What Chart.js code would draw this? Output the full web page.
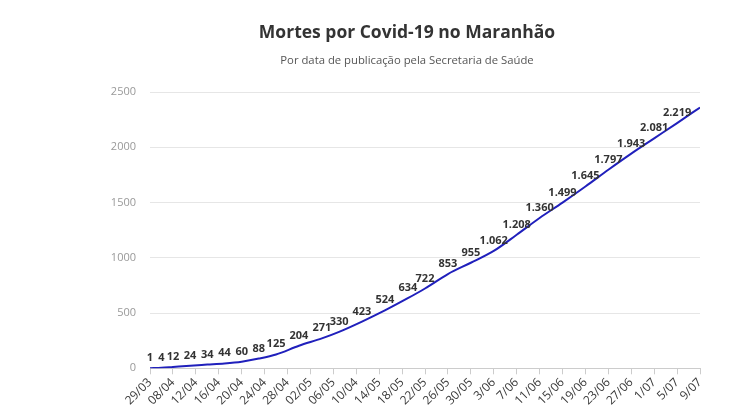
<!DOCTYPE html>
<html>
<head>
<meta charset="utf-8">
<script src="https://cdn.jsdelivr.net/npm/chart.js@4"></script>
<style>
  html, body { margin: 0; padding: 0; background: #fff; }
  #wrap { width: 750px; height: 409px; }
</style>
</head>
<body>
<div id="wrap"><canvas id="myChart"></canvas></div>
<script>
// day index from 29/03 (0) to 9/07 (96), with 05/04 as index 1
const dayIndex = [0, 2, 4, 7, 10, 13, 16, 19, 22, 26, 30, 33, 37, 41, 45, 48, 52, 56, 60, 64, 68, 72, 76, 80, 84, 88, 92, 96];
const deaths = [1, 4, 12, 24, 34, 44, 60, 88, 125, 204, 271, 330, 423, 524, 634, 722, 853, 955, 1062, 1208, 1360, 1499, 1645, 1797, 1943, 2081, 2219, 2360];
const showLabel = [1, 1, 1, 1, 1, 1, 1, 1, 1, 1, 1, 1, 1, 1, 1, 1, 1, 1, 1, 1, 1, 1, 1, 1, 1, 1, 1, 0];
const tickLabels = ['29/03', '08/04', '12/04', '16/04', '20/04', '24/04', '28/04', '02/05', '06/05', '10/04', '14/05', '18/05', '22/05', '26/05', '30/05', '3/06', '7/06', '11/06', '15/06', '19/06', '23/06', '27/06', '1/07', '5/07', '9/07'];
const yTicks = [0, 500, 1000, 1500, 2000, 2500];

const titleText = 'Mortes por Covid-19 no Maranhão';
const subtitleText = 'Por data de publicação pela Secretaria de Saúde';

function formatBR(n) {
    return String(n).replace(/\B(?=(\d{3})+(?!\d))/g, '.');
}

// title + subtitle, centred like the original page
const headings = {
    id: 'headings',
    afterDraw(chart) {
        const ctx = chart.ctx;
        ctx.save();
        ctx.textAlign = 'center';
        ctx.textBaseline = 'middle';
        ctx.fillStyle = '#333';
        ctx.font = 'bold 17.5px "Open Sans"';
        ctx.fillText(titleText, 407, 33);
        ctx.fillStyle = '#555';
        ctx.font = '11.3px "Open Sans"';
        ctx.fillText(subtitleText, 407, 61);
        ctx.restore();
    }
};

// value labels above the line
const pointLabels = {
    id: 'pointLabels',
    afterDatasetsDraw(chart) {
        const ctx = chart.ctx;
        const meta = chart.getDatasetMeta(0);
        ctx.save();
        ctx.font = 'bold 11px "Open Sans"';
        ctx.fillStyle = '#333';
        ctx.textAlign = 'center';
        ctx.textBaseline = 'alphabetic';
        meta.data.forEach((pt, i) => {
            if (!showLabel[i]) return;
            ctx.fillText(formatBR(deaths[i]), pt.x, pt.y - 7);
        });
        ctx.restore();
    }
};

const ctx = document.getElementById('myChart');

new Chart(ctx, {
    type: 'line',
    data: {
        datasets: [{
            label: 'Mortes',
            data: dayIndex.map((d, i) => ({ x: d, y: deaths[i] })),
            borderColor: '#2020bc',
            borderWidth: 2,
            pointRadius: 0,
            cubicInterpolationMode: 'monotone',
            fill: false
        }]
    },
    options: {
        responsive: true,
        maintainAspectRatio: false,
        animation: false,
        layout: { padding: { top: 92, right: 50, bottom: 0, left: 0 } },
        plugins: {
            legend: { display: false },
            tooltip: { enabled: false }
        },
        scales: {
            x: {
                type: 'linear',
                min: 0,
                max: 96,
                border: { color: '#ccc' },
                grid: { drawOnChartArea: false, color: '#ccc', tickLength: 6 },
                ticks: {
                    stepSize: 4,
                    autoSkip: false,
                    minRotation: 45,
                    maxRotation: 45,
                    color: '#3a3a3a',
                    font: { family: 'Open Sans', size: 12 },
                    padding: 1,
                    callback: (value) => tickLabels[value / 4]
                }
            },
            y: {
                min: 0,
                max: 2500,
                afterFit: (scale) => { scale.width = 150; },
                afterBuildTicks: (scale) => { scale.ticks = yTicks.map((v) => ({ value: v })); },
                border: { display: false },
                grid: { color: '#e6e6e6', drawTicks: false },
                ticks: {
                    color: '#999',
                    padding: 14,
                    font: { family: 'Open Sans', size: 11 },
                    callback: (value) => String(value)
                }
            }
        }
    },
    plugins: [pointLabels, headings]
});
</script>
</body>
</html>
